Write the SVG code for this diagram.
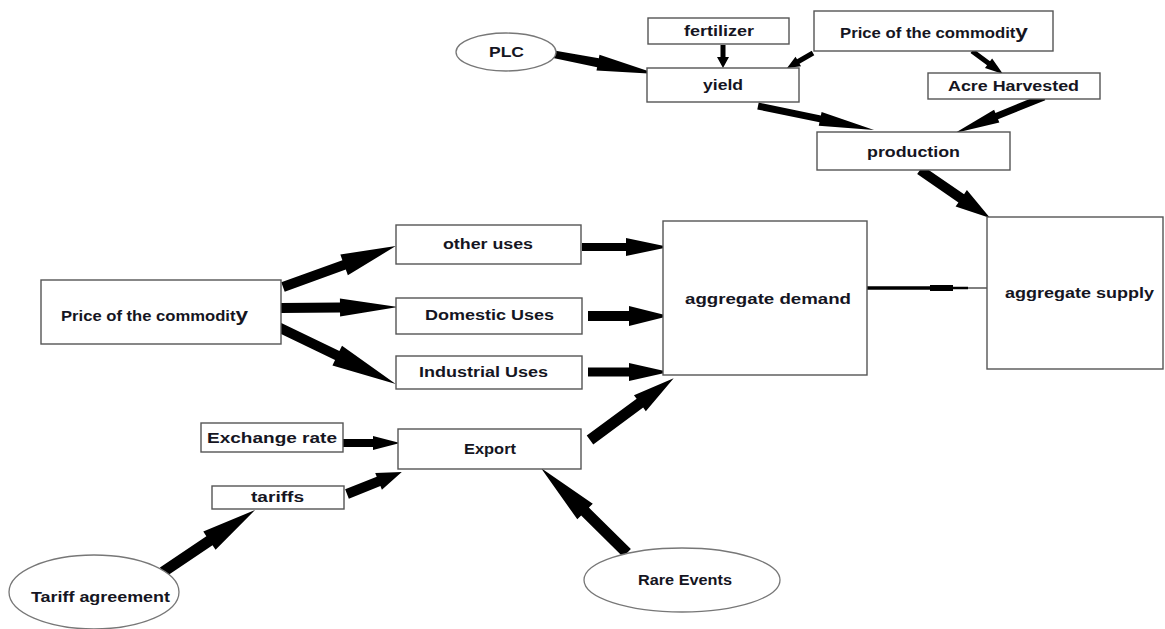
<svg xmlns="http://www.w3.org/2000/svg" width="1165" height="629" viewBox="0 0 1165 629">
<style>
.box{fill:#fff;stroke:#555;stroke-width:1.4}
.ell{fill:#fff;stroke:#777;stroke-width:1.3}
.t{font-family:"Liberation Sans",Arial,sans-serif;font-weight:bold;fill:#151522;font-size:14px;text-anchor:start}
.a{fill:#000}
</style>
<rect width="1165" height="629" fill="#fff"/>
<g id="connectors">
<path class="a" transform="translate(542,52) rotate(10.83)" d="M0,-3.5 L57,-4.5 L57,-8 L117,0 L57,8 L57,4.5 L0,3.5Z"/>
<path class="a" transform="translate(723,45) rotate(90)" d="M0,-2.5 L12,-2.5 L12,-6 L23,0 L12,6 L12,2.5 L0,2.5Z"/>
<path class="a" transform="translate(813,53) rotate(150)" d="M0,-2.5 L17,-2.5 L17,-5.5 L30,0 L17,5.5 L17,2.5 L0,2.5Z"/>
<path class="a" transform="translate(972,51) rotate(36.57)" d="M0,-2.5 L20.6,-2.5 L20.6,-6 L38.6,0 L20.6,6 L20.6,2.5 L0,2.5Z"/>
<path class="a" transform="translate(758,106) rotate(11.69)" d="M0,-3.5 L63.5,-3.5 L63.5,-7 L118.5,0 L63.5,7 L63.5,3.5 L0,3.5Z"/>
<path class="a" transform="translate(1044,97) rotate(157.98)" d="M0,-3.5 L51,-3.5 L51,-7 L96,0 L51,7 L51,3.5 L0,3.5Z"/>
<path class="a" transform="translate(920,170) rotate(34.44)" d="M0,-5 L50,-5 L50,-10 L85,0 L50,10 L50,5 L0,5Z"/>
<path class="a" transform="translate(283,287) rotate(-19.94)" d="M0,-5 L65,-5 L65,-11 L120,0 L65,11 L65,5 L0,5Z"/>
<path class="a" transform="translate(281,308) rotate(-0.49)" d="M0,-5 L59,-5 L59,-9 L117,0 L59,9 L59,5 L0,5Z"/>
<path class="a" transform="translate(276,326) rotate(25.8)" d="M0,-5 L68,-5 L68,-11 L133,0 L68,11 L68,5 L0,5Z"/>
<path class="a" transform="translate(582,247)" d="M0,-4 L44,-4 L44,-9 L87,0 L44,9 L44,4 L0,4Z"/>
<path class="a" transform="translate(588,316)" d="M0,-5 L41,-5 L41,-10 L81,0 L41,10 L41,5 L0,5Z"/>
<path class="a" transform="translate(588,372)" d="M0,-4.5 L41,-4.5 L41,-9 L81,0 L41,9 L41,4.5 L0,4.5Z"/>
<path class="a" transform="translate(590,440) rotate(-36.43)" d="M0,-5.5 L62,-5.5 L62,-10 L104,0 L62,10 L62,5.5 L0,5.5Z"/>
<path class="a" transform="translate(343,443)" d="M0,-4 L30,-4 L30,-7 L57,0 L30,7 L30,4 L0,4Z"/>
<path class="a" transform="translate(347,494) rotate(-21.8)" d="M0,-5 L34,-5 L34,-9 L59,0 L34,9 L34,5 L0,5Z"/>
<path class="a" transform="translate(163,572) rotate(-33.98)" d="M0,-5.5 L56,-5.5 L56,-11 L111,0 L56,11 L56,5.5 L0,5.5Z"/>
<path class="a" transform="translate(627,553) rotate(-135.33)" d="M0,-5.5 L59,-5.5 L59,-11 L121,0 L59,11 L59,5.5 L0,5.5Z"/>
<line x1="867" y1="288" x2="930" y2="288" stroke="#000" stroke-width="3.5"/>
<rect x="930" y="285" width="23" height="6" fill="#000"/>
<line x1="953" y1="288" x2="968" y2="288" stroke="#000" stroke-width="2.5"/>
<line x1="968" y1="288" x2="990" y2="288" stroke="#000" stroke-width="1"/>
</g>
<g id="plc"><ellipse class="ell" cx="506" cy="52" rx="50" ry="19"/><text class="t" x="489" y="57" textLength="35" lengthAdjust="spacingAndGlyphs">PLC</text></g>
<g id="fertilizer"><rect class="box" x="648" y="18" width="141" height="26"/><text class="t" x="684" y="36" textLength="70" lengthAdjust="spacingAndGlyphs">fertilizer</text></g>
<g id="yield"><rect class="box" x="647" y="68" width="152" height="34"/><text class="t" x="703" y="90" textLength="40" lengthAdjust="spacingAndGlyphs">yield</text></g>
<g id="price-top"><rect class="box" x="814" y="11" width="239" height="40"/><text class="t" x="840" y="38" font-size="13" textLength="188" lengthAdjust="spacingAndGlyphs">Price of the commodit<tspan font-size="19">y</tspan></text></g>
<g id="acre"><rect class="box" x="928" y="73" width="172" height="26"/><text class="t" x="948" y="91" textLength="131" lengthAdjust="spacingAndGlyphs">Acre Harvested</text></g>
<g id="production"><rect class="box" x="817" y="132" width="193" height="38"/><text class="t" x="867" y="157" textLength="93" lengthAdjust="spacingAndGlyphs">production</text></g>
<g id="aggregate-demand"><rect class="box" x="663" y="221" width="204" height="154"/><text class="t" x="685" y="304" textLength="166" lengthAdjust="spacingAndGlyphs">aggregate demand</text></g>
<g id="aggregate-supply"><rect class="box" x="987" y="217" width="176" height="152"/><text class="t" x="1005" y="298" textLength="149" lengthAdjust="spacingAndGlyphs">aggregate supply</text></g>
<g id="price-left"><rect class="box" x="41" y="280" width="240" height="64"/><text class="t" x="61" y="321" font-size="13" textLength="187" lengthAdjust="spacingAndGlyphs">Price of the commodit<tspan font-size="19">y</tspan></text></g>
<g id="other-uses"><rect class="box" x="396" y="225" width="185" height="39"/><text class="t" x="443" y="249" textLength="90" lengthAdjust="spacingAndGlyphs">other uses</text></g>
<g id="domestic-uses"><rect class="box" x="396" y="298" width="186" height="36"/><text class="t" x="425" y="320" textLength="129" lengthAdjust="spacingAndGlyphs">Domestic Uses</text></g>
<g id="industrial-uses"><rect class="box" x="396" y="356" width="186" height="33"/><text class="t" x="419" y="377" textLength="129" lengthAdjust="spacingAndGlyphs">Industrial Uses</text></g>
<g id="exchange-rate"><rect class="box" x="201" y="423" width="142" height="29"/><text class="t" x="207" y="443" font-size="15" textLength="130" lengthAdjust="spacingAndGlyphs">Exchange rate</text></g>
<g id="tariffs"><rect class="box" x="212" y="486" width="132" height="23"/><text class="t" x="251" y="502" textLength="53" lengthAdjust="spacingAndGlyphs">tariffs</text></g>
<g id="export"><rect class="box" x="398" y="429" width="183" height="40"/><text class="t" x="464" y="454" textLength="52" lengthAdjust="spacingAndGlyphs">Export</text></g>
<g id="tariff-agreement"><ellipse class="ell" cx="94" cy="592" rx="85" ry="37"/><text class="t" x="31" y="602" textLength="139" lengthAdjust="spacingAndGlyphs">Tariff agreement</text></g>
<g id="rare-events"><ellipse class="ell" cx="682" cy="580" rx="98" ry="32"/><text class="t" x="638" y="585" textLength="94" lengthAdjust="spacingAndGlyphs">Rare Events</text></g>
</svg>
